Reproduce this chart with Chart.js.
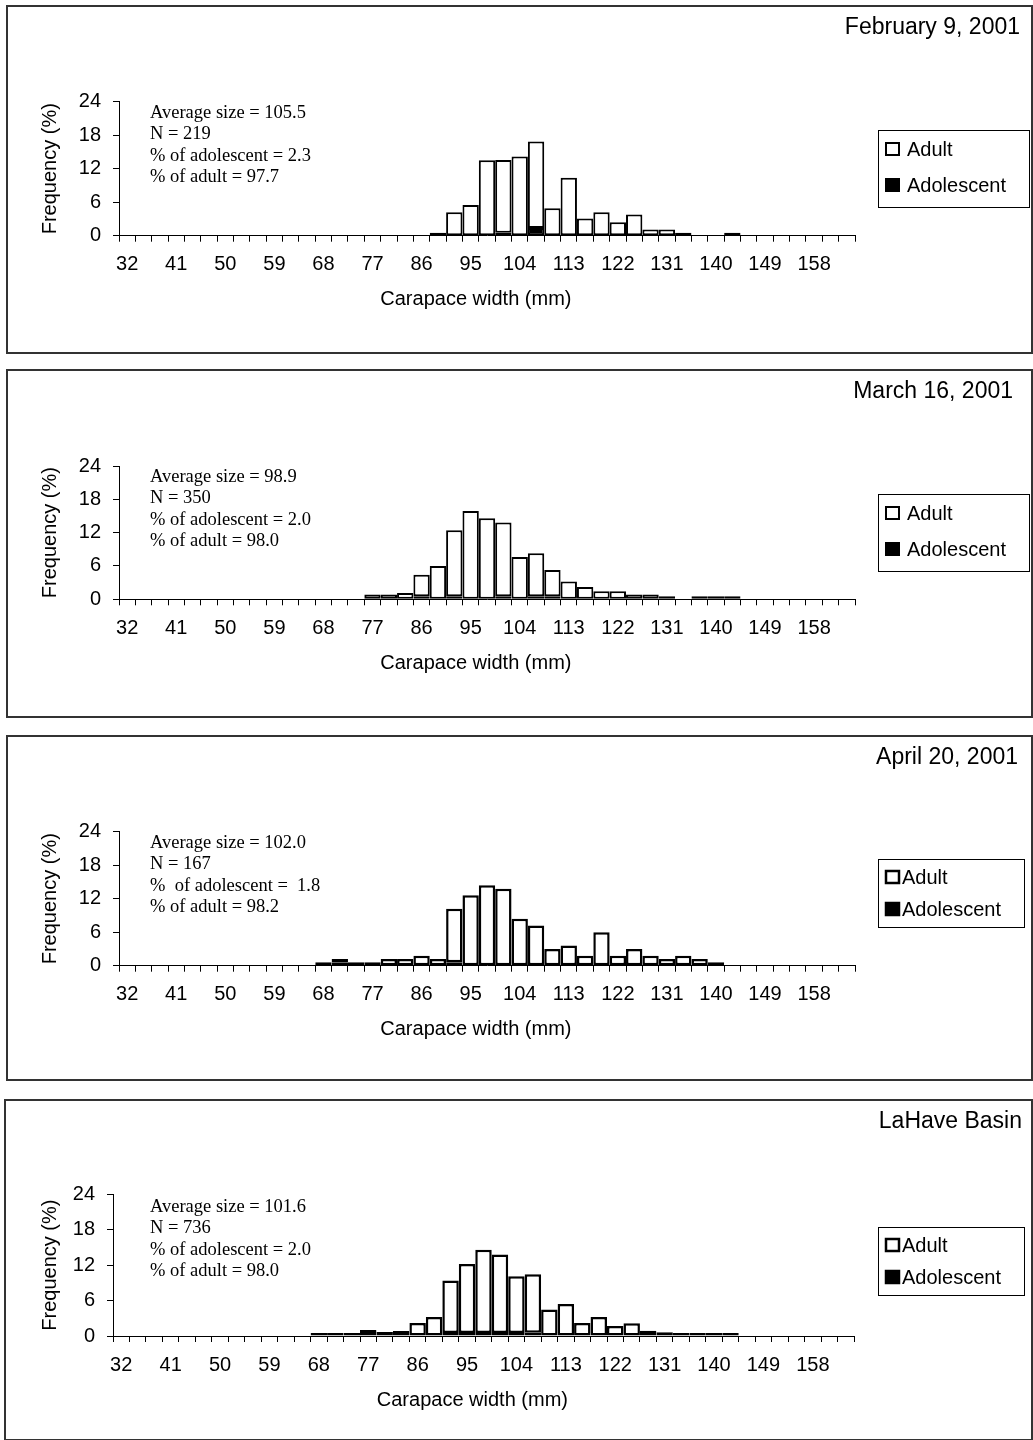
<!DOCTYPE html>
<html>
<head>
<meta charset="utf-8">
<script src="https://cdn.jsdelivr.net/npm/chart.js@4.4.1/dist/chart.umd.min.js"></script>
<style>
  body { margin: 0; background: #fff; width: 1033px; height: 1440px; position: relative; overflow: hidden; }
  .panel { position: absolute; box-sizing: border-box; border: 2px solid #333; }
  canvas { position: absolute; left: 0; }
</style>
</head>
<body>
<div class="panel" style="left:6px;top:5px;width:1027px;height:349px"></div>
<div class="panel" style="left:6px;top:369px;width:1027px;height:349px"></div>
<div class="panel" style="left:6px;top:735px;width:1027px;height:346px"></div>
<div class="panel" style="left:4px;top:1099px;width:1029px;height:342px"></div>
<canvas id="c1" width="1033" height="348" style="top:5px"></canvas>
<canvas id="c2" width="1033" height="348" style="top:369px"></canvas>
<canvas id="c3" width="1033" height="345" style="top:735px"></canvas>
<canvas id="c4" width="1033" height="341" style="top:1099px"></canvas>
<script>
const _ = null;

// carapace width classes (mm)
const widths = [32, 35, 38, 41, 44, 47, 50, 53, 56, 59, 62, 65, 68, 71, 74, 77, 80, 83, 86, 89,
  92, 95, 98, 101, 104, 107, 110, 113, 116, 119, 122, 125, 128, 131, 134, 137, 140, 143, 146, 149,
  152, 155, 158, 161, 164];
const yTicks = [0, 6, 12, 18, 24];

// frequencies (%)
const febAdult = [_,_,_,_,_,_,_,_,_,_, _,_,_,_,_,_,_,_,_,_,
  4.2, 5.5, 13.5, 13.0, 14.2, 15.5, 4.9, 10.4, 3.1, 4.2,
  2.4, 3.8, 1.1, 1.1, 0.46, _, _, 0.46, _, _, _,_,_,_,_];
const febAdol = [_,_,_,_,_,_,_,_,_,_, _,_,_,_,_,_,_,_,_,0.46,
  _, _, _, 0.46, _, 1.37, _, _, _, _,
  _,_,_,_,_,_,_,_,_,_, _,_,_,_,_];

const marAdult = [_,_,_,_,_,_,_,_,_,_, _,_,_,_,_,0.86,0.86,1.14,3.9,6.0,
  11.9, 15.9, 14.6, 13.3, 7.6, 7.7, 4.7, 3.2, 2.2, 1.43,
  1.43, 0.86, 0.86, 0.43, _, 0.43, 0.43, 0.43, _, _, _,_,_,_,_];
const marAdol = [_,_,_,_,_,_,_,_,_,_, _,_,_,_,_,_,_,_,0.29,_,
  0.29, _, _, 0.29, _, 0.57, 0.57, _, _, _,
  _,_,_,_,_,_,_,_,_,_, _,_,_,_,_];

const aprAdult = [_,_,_,_,_,_,_,_,_,_, _,_,0.6,0.6,0.6,_,1.2,1.2,1.8,1.2,
  9.6, 12.6, 14.4, 13.8, 8.4, 7.2, 3.0, 3.6, 1.8, 6.0,
  1.8, 3.0, 1.8, 1.2, 1.8, 1.2, 0.6, _, _, _, _,_,_,_,_];
const aprAdol = [_,_,_,_,_,_,_,_,_,_, _,_,_,0.6,_,0.6,_,_,_,_,
  0.6, _, _, _, _, _, _, _, _, _,
  _,_,_,_,_,_,_,_,_,_, _,_,_,_,_];

const lahAdult = [_,_,_,_,_,_,_,_,_,_, _,_,0.14,0.14,0.14,0.14,0.68,0.85,2.2,3.2,
  8.9, 11.7, 14.1, 13.3, 9.6, 9.9, 4.5, 5.4, 2.2, 3.2,
  1.7, 2.15, 0.9, 0.62, 0.45, 0.34, 0.23, 0.23, _, _, _,_,_,_,_];
const lahAdol = [_,_,_,_,_,_,_,_,_,_, _,_,_,_,_,0.27,_,_,_,_,
  0.14, 0.14, 0.14, 0.14, 0.14, 0.56, _, _, _, _,
  _,_,_,_,_,_,_,_,_,_, _,_,_,_,_];

const SANS = '"Liberation Sans", Arial, sans-serif';
const SERIF = '"Liberation Serif", "Times New Roman", serif';

const decor = {
  id: 'decor',
  afterDraw(chart, args, o) {
    const ctx = chart.ctx;
    ctx.save();
    ctx.fillStyle = '#000';
    ctx.textBaseline = 'middle';
    ctx.font = '23px ' + SANS;
    ctx.textAlign = 'right';
    ctx.fillText(o.title, o.titleX, o.titleY);

    ctx.font = '18.5px ' + SERIF;
    ctx.textAlign = 'left';
    o.notes.forEach((t, k) => ctx.fillText(t, 150, o.notesY + k * 21.6));

    // legend box
    ctx.strokeStyle = '#000';
    ctx.lineWidth = 1;
    ctx.strokeRect(o.legX + 0.5, o.legY + 0.5, o.legW, o.legH);
    ctx.font = '20px ' + SANS;
    const ds = chart.data.datasets.slice().reverse();
    ds.forEach((d, k) => {
      const cy = o.legY + o.legFirst + k * o.legGap;
      ctx.fillStyle = d.backgroundColor;
      ctx.fillRect(o.legX + 8, cy - 6, 13, 12);
      ctx.lineWidth = o.markLine;
      ctx.strokeRect(o.legX + 8, cy - 6, 13, 12);
      ctx.fillStyle = '#000';
      ctx.fillText(d.label, o.legX + o.legText, cy + 1);
    });
    ctx.restore();
  }
};

function makeChart(id, p) {
  const barStyle = { borderColor: '#000', borderWidth: p.bw, borderSkipped: false, inflateAmount: 0,
                     minBarLength: 3, categoryPercentage: 1, barPercentage: 1 };
  new Chart(document.getElementById(id), {
    type: 'bar',
    data: {
      labels: widths,
      datasets: [
        Object.assign({ label: 'Adolescent', data: p.adol, backgroundColor: '#000' }, barStyle),
        Object.assign({ label: 'Adult', data: p.adult, backgroundColor: '#fff' }, barStyle)
      ]
    },
    options: {
      responsive: false,
      animation: false,
      layout: { padding: { left: 20, top: p.top, right: 1033 - p.right, bottom: p.height - p.bottom - 80 } },
      plugins: {
        legend: { display: false },
        tooltip: { enabled: false },
        decor: Object.assign({ title: p.title, titleX: p.titleX, titleY: 23, notes: p.notes, notesY: 107.7,
                 legX: 878, markLine: p.bw }, p.leg)
      },
      scales: {
        x: {
          stacked: true,
          grid: { drawOnChartArea: false, tickLength: 6, color: '#000', offset: true },
          border: { color: '#000' },
          ticks: { autoSkip: false, maxRotation: 0, padding: 11, color: '#000', font: { family: SANS, size: 20 },
                   callback: (v, i) => i % 3 === 0 ? widths[i] : '' },
          title: { display: true, text: 'Carapace width (mm)    ', color: '#000', font: { family: SANS, size: 20 },
                   padding: { top: 0, bottom: 4 } },
          afterFit: s => { s.height = 80; }
        },
        y: {
          stacked: true, min: 0, max: 24,
          afterBuildTicks: s => { s.ticks = yTicks.map(v => ({ value: v })); },
          grid: { drawOnChartArea: false, tickLength: 6, color: '#000' },
          border: { color: '#000' },
          ticks: { padding: 12, color: '#000', font: { family: SANS, size: 20 } },
          title: { display: true, text: 'Frequency (%)', color: '#000', font: { family: SANS, size: 20 },
                   padding: { top: 18, bottom: 0 } },
          afterFit: s => { s.width = p.left - 20; }
        }
      }
    },
    plugins: [decor]
  });
}

const legWide = { legY: 125, legW: 151, legH: 77, legFirst: 19, legGap: 36, legText: 29 };
makeChart('c1', { adult: febAdult, adol: febAdol, bw: 2, title: 'February 9, 2001', titleX: 1020,
  left: 119, right: 855, top: 96.7, bottom: 230.7, height: 348, leg: legWide,
  notes: ['Average size = 105.5', 'N = 219', '% of adolescent = 2.3', '% of adult = 97.7'] });
makeChart('c2', { adult: marAdult, adol: marAdol, bw: 2, title: 'March 16, 2001', titleX: 1013,
  left: 119, right: 855, top: 97, bottom: 230.3, height: 348, leg: legWide,
  notes: ['Average size = 98.9', 'N = 350', '% of adolescent = 2.0', '% of adult = 98.0'] });
makeChart('c3', { adult: aprAdult, adol: aprAdol, bw: 2.5, title: 'April 20, 2001', titleX: 1018,
  left: 119, right: 855, top: 96.7, bottom: 230.7, height: 345,
  leg: { legY: 124, legW: 146, legH: 68, legFirst: 18, legGap: 32, legText: 24 },
  notes: ['Average size = 102.0', 'N = 167', '%  of adolescent =  1.8', '% of adult = 98.2'] });
makeChart('c4', { adult: lahAdult, adol: lahAdol, bw: 2.5, title: 'LaHave Basin', titleX: 1022,
  left: 113, right: 854, top: 95.3, bottom: 237, height: 341,
  leg: { legY: 128, legW: 146, legH: 68, legFirst: 18, legGap: 32, legText: 24 },
  notes: ['Average size = 101.6', 'N = 736', '% of adolescent = 2.0', '% of adult = 98.0'] });
</script>
</body>
</html>
